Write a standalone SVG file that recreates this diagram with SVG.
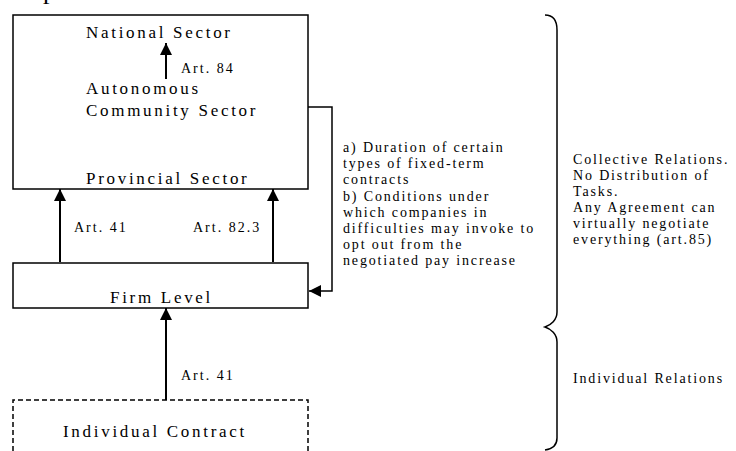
<svg xmlns="http://www.w3.org/2000/svg" width="736" height="451" viewBox="0 0 736 451">
<style>
  .box { fill: #fff; stroke: #000; stroke-width: 1.5; }
  .dash { fill: none; stroke: #000; stroke-width: 1.5; stroke-dasharray: 5 3; }
  .lbl { font-family: "Liberation Serif", "Times New Roman", serif; font-size: 17px; letter-spacing: 2.7px; fill: #000; }
  .art { font-family: "Liberation Serif", "Times New Roman", serif; font-size: 14px; letter-spacing: 2px; fill: #000; }
  .note { font-family: "Liberation Serif", "Times New Roman", serif; font-size: 14px; letter-spacing: 1.85px; fill: #000; }
  .edge { fill: none; stroke: #000; stroke-width: 2; }
  .thin { fill: none; stroke: #000; stroke-width: 1.5; }
</style>
<defs>
  <marker id="ah" markerUnits="userSpaceOnUse" markerWidth="12" markerHeight="12" refX="12" refY="6" orient="auto">
    <path d="M0,0 L12,6 L0,12 Z" fill="#000"/>
  </marker>
</defs>
<rect width="736" height="451" fill="#fff"/>
<text x="43" y="-1" font-family="Liberation Serif, serif" font-size="26">p</text>

<g id="sectors">
  <rect class="box" x="13" y="15" width="295" height="174"/>
  <text class="lbl" x="86" y="38">National Sector</text>
  <text class="lbl" x="86" y="94">Autonomous</text>
  <text class="lbl" x="86" y="116">Community Sector</text>
  <text class="lbl" x="86" y="184">Provincial Sector</text>
</g>

<g id="firm">
  <rect class="box" x="13" y="263" width="295" height="45"/>
  <text class="lbl" x="110" y="303">Firm Level</text>
</g>

<g id="individual">
  <path class="dash" d="M13,451 L13,400 L308,400 L308,451"/>
  <text class="lbl" x="63" y="437">Individual Contract</text>
</g>

<g id="connectors">
  <line class="edge" x1="166" y1="79" x2="166" y2="43" marker-end="url(#ah)"/>
  <line class="edge" x1="60" y1="262" x2="60" y2="189" marker-end="url(#ah)"/>
  <line class="edge" x1="273" y1="262" x2="273" y2="189" marker-end="url(#ah)"/>
  <line class="edge" x1="166" y1="400" x2="166" y2="308" marker-end="url(#ah)"/>
  <path class="thin" d="M308,107 L332,107 L332,291 L309,291" marker-end="url(#ah)"/>
  <text class="art" x="181" y="73">Art. 84</text>
  <text class="art" x="74" y="232">Art. 41</text>
  <text class="art" x="193" y="232">Art. 82.3</text>
  <text class="art" x="181" y="380">Art. 41</text>
</g>

<g id="note">
  <text class="note" x="343" y="152">a) Duration of certain</text>
  <text class="note" x="343" y="168.2">types of fixed-term</text>
  <text class="note" x="343" y="184.4">contracts</text>
  <text class="note" x="343" y="200.6">b) Conditions under</text>
  <text class="note" x="343" y="216.8">which companies in</text>
  <text class="note" x="343" y="233">difficulties may invoke to</text>
  <text class="note" x="343" y="249.2">opt out from the</text>
  <text class="note" x="343" y="265.4">negotiated pay increase</text>
</g>

<g id="brace">
  <path class="thin" d="M545,15 C553,15 557,20 557,30 L557,312 C557,320 551,325 545,327 C551,329 557,334 557,342 L557,438 C557,445 552,449 545,450"/>
</g>

<g id="relations">
  <text class="note" x="573" y="164">Collective Relations.</text>
  <text class="note" x="573" y="180">No Distribution of</text>
  <text class="note" x="573" y="196">Tasks.</text>
  <text class="note" x="573" y="212"> Any Agreement can</text>
  <text class="note" x="573" y="228">virtually negotiate</text>
  <text class="note" x="573" y="244">everything (art.85)</text>
  <text class="note" x="573" y="383">Individual Relations</text>
</g>
</svg>
